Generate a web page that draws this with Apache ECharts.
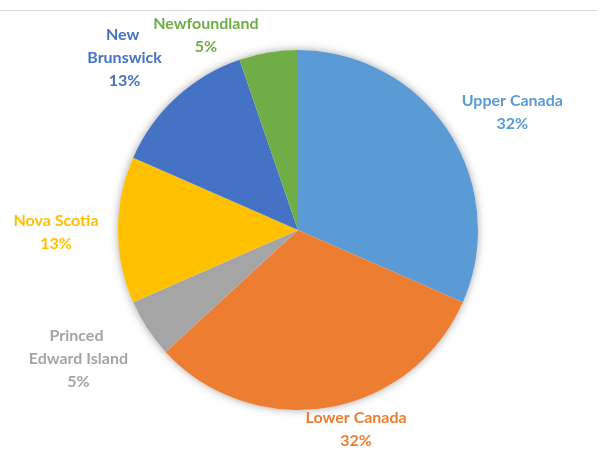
<!DOCTYPE html>
<html>
<head>
<meta charset="utf-8">
<style>
  html, body { margin: 0; padding: 0; background: #fff; }
  #chart { width: 597px; height: 449px; }
</style>
<script src="https://cdn.jsdelivr.net/npm/echarts@6/dist/echarts.min.js"></script>
</head>
<body>
<div id="chart"></div>
<script>
// Quebec conference senate seats by region
const regions = ["Upper Canada", "Lower Canada", "Princed Edward Island", "Nova Scotia", "New Brunswick", "Newfoundland"];
const seats = [24, 24, 4, 10, 10, 4];
const colors = ["#5B9BD5", "#ED7D31", "#A5A5A5", "#FFC000", "#4472C4", "#70AD47"];

(function () {
    const chart = echarts.init(document.getElementById("chart"));

    const cx = 298, cy = 230, R = 180;
    const total = seats.reduce((a, b) => a + b, 0);

    // label wrap widths and hand nudges (labels were dragged in the original)
    const wrapWidths = [140, 140, 112, 140, 90, 140];
    const nudgeX = [0, 16, -17, 14, -17, -50];
    const nudgeY = [-3, -7, 8, 2, -10, 11];

    // mid angle of each slice, clockwise from 12 o'clock
    const mids = [];
    let acc = 0;
    seats.forEach(v => {
        mids.push((acc + v / 2) / total * Math.PI * 2);
        acc += v;
    });

    chart.setOption({
        animation: false,
        backgroundColor: "#fff",
        graphic: [{
            type: "line",
            shape: { x1: 0, y1: 10.5, x2: 597, y2: 10.5 },
            style: { stroke: "#D9D9D9", lineWidth: 1 }
        }],
        series: [
            {
                // soft shadow behind the pie
                type: "pie",
                silent: true,
                center: [cx, cy],
                radius: R,
                z: 1,
                label: { show: false },
                itemStyle: {
                    color: "#fff",
                    shadowBlur: 8,
                    shadowColor: "rgba(0,0,0,0.35)"
                },
                data: [{ value: 1 }]
            },
            {
                type: "pie",
                center: [cx, cy],
                radius: R,
                startAngle: 90,
                clockwise: true,
                z: 2,
                label: {
                    show: true,
                    position: "outside",
                    formatter: p => p.name + "\n" + Math.round(p.value / total * 100) + "%",
                    fontFamily: "Lato",
                    fontWeight: "bold",
                    fontSize: 16,
                    lineHeight: 23,
                    align: "center"
                },
                labelLine: { show: false, length: 5, length2: 0 },
                labelLayout: params => {
                    const i = params.dataIndex;
                    const a = mids[i];
                    const sx = Math.sin(a), sy = -Math.cos(a);
                    const w = params.labelRect.width, h = params.labelRect.height;
                    const gap = 6;
                    return {
                        x: cx + sx * (R + gap) + sx * w / 2 + nudgeX[i],
                        y: cy + sy * (R + gap) + sy * h / 2 + nudgeY[i],
                        align: "center",
                        verticalAlign: "middle"
                    };
                },
                data: regions.map((name, i) => ({
                    name: name,
                    value: seats[i],
                    itemStyle: { color: colors[i] },
                    label: { color: colors[i], width: wrapWidths[i], overflow: "break" }
                }))
            }
        ]
    });
})();
</script>
</body>
</html>
